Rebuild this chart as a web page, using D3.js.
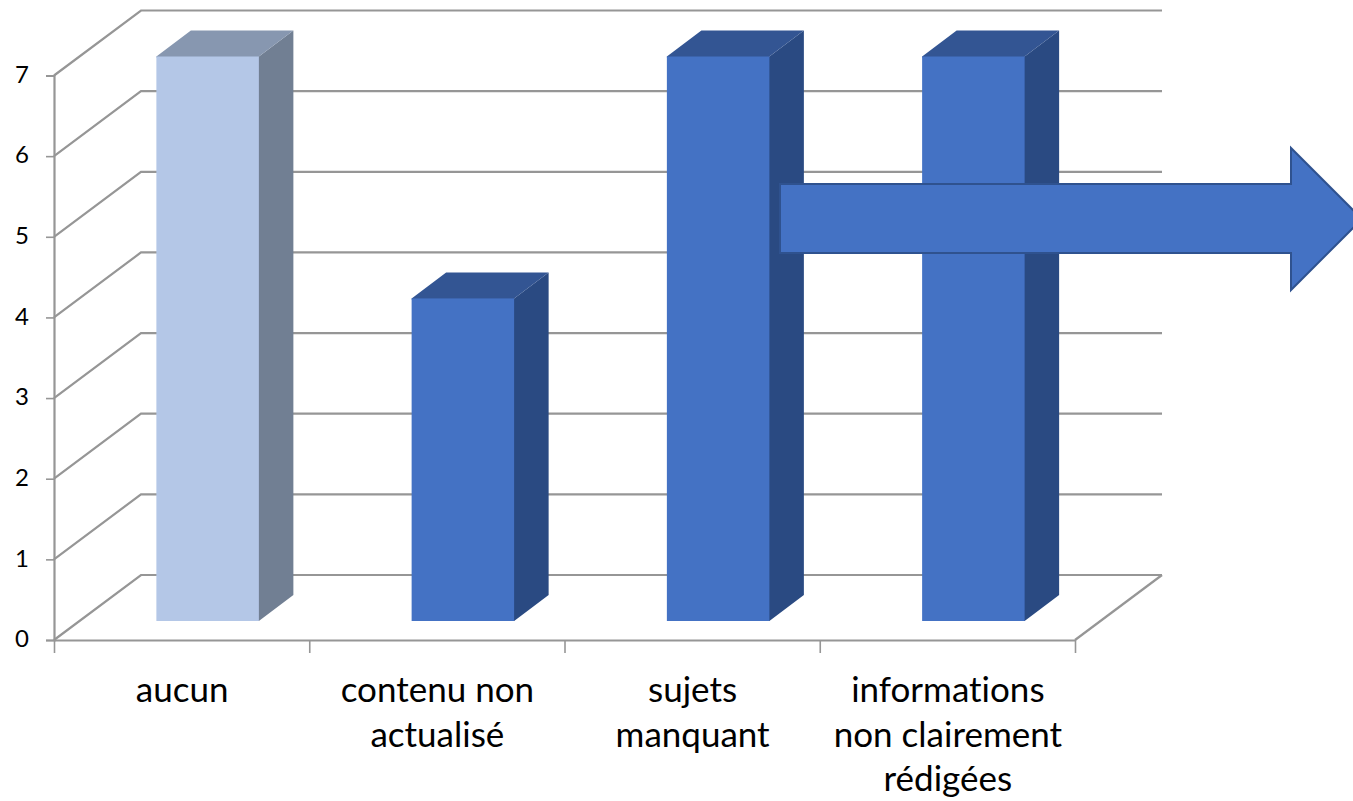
<!DOCTYPE html>
<html>
<head>
<meta charset="utf-8">
<script src="https://cdn.jsdelivr.net/npm/d3@7"></script>
<style>
  html, body { margin: 0; padding: 0; background: #fff; overflow: hidden; }
  svg { display: block; }
  text { font-family: Lato, "Open Sans", sans-serif; fill: #000; font-variant-ligatures: none; }
</style>
</head>
<body>
<div id="chart"></div>
<script>
// data
const categories = [
    ["aucun"],
    ["contenu non", "actualisé"],
    ["sujets", "manquant"],
    ["informations", "non clairement", "rédigées"]
];
const values = [7, 4, 7, 7];
const yTicks = [0, 1, 2, 3, 4, 5, 6, 7];
const highlighted = [true, false, false, false]; // first bar is the pale one

const w = 1353, h = 801;
const gridColor = "#969696";

const x = d3.scaleBand().domain(d3.range(categories.length)).range([54, 1075]).paddingInner(0).paddingOuter(0);
const xEdges = d3.scaleLinear().domain([0, categories.length]).range([54, 1075]);
const y = d3.scaleLinear().domain([0, 7]).range([640, 75.5]);

// depth of the fake 3d box
const wallDx = 87, wallDy = -65;
const barW = 102.5, barDx = 34.5, barDy = -26, barLift = -19, barShift = 26;

const svg = d3.select("#chart").append("svg").attr("width", w).attr("height", h);

// gridlines run up the left wall and then along the back wall
svg.append("g").selectAll("path")
    .data(yTicks)
    .enter()
    .append("path")
    .attr("fill", "none")
    .attr("stroke", gridColor)
    .attr("stroke-width", 2.2)
    .attr("d", d => {
        const p = d3.path();
        p.moveTo(x.range()[0], y(d));
        p.lineTo(x.range()[0] + wallDx, y(d) + wallDy);
        p.lineTo(x.range()[1] + wallDx, y(d) + wallDy);
        return p.toString();
    });

// right edge of the floor
svg.append("line")
    .attr("x1", x.range()[1]).attr("y1", y(0))
    .attr("x2", x.range()[1] + wallDx).attr("y2", y(0) + wallDy)
    .attr("stroke", gridColor).attr("stroke-width", 2.2);

// axes
const yAxis = svg.append("g")
    .attr("transform", "translate(54,0)")
    .call(d3.axisLeft(y).tickValues(yTicks).tickFormat(d3.format("d")).tickSize(8).tickPadding(17));
const xAxis = svg.append("g")
    .attr("transform", "translate(0,640)")
    .call(d3.axisBottom(xEdges).tickValues(d3.range(categories.length + 1)).tickFormat("").tickSize(13).tickSizeOuter(0));

yAxis.selectAll("text").style("font-size", "24px").attr("dy", "0.28em");
[yAxis, xAxis].forEach(a => {
    a.selectAll(".domain").attr("stroke", gridColor).attr("stroke-width", 2.2);
    a.selectAll("line").attr("stroke", gridColor).attr("stroke-width", 1.6);
});

// bars: front, top and side faces (side and top start 1px under the front to hide the seam)
const bars = svg.append("g").selectAll("g")
    .data(values)
    .enter()
    .append("g")
    .attr("transform", (d, i) => "translate(" + (x(i) + (x.bandwidth() - barW) / 2 + barShift) + ",0)");

bars.append("path")
    .attr("fill", (d, i) => highlighted[i] ? "#717f93" : "#2a4a82")
    .attr("d", d => {
        const top = y(d) + barLift, bottom = y(0) + barLift;
        return "M" + (barW - 1) + "," + top + "L" + barW + "," + top + "L" + (barW + barDx) + "," + (top + barDy) +
            "L" + (barW + barDx) + "," + (bottom + barDy) + "L" + barW + "," + bottom + "L" + (barW - 1) + "," + bottom + "Z";
    });

bars.append("path")
    .attr("fill", (d, i) => highlighted[i] ? "#8797b0" : "#335593")
    .attr("d", d => {
        const top = y(d) + barLift;
        return "M0," + top + "L" + barDx + "," + (top + barDy) +
            "L" + (barW + barDx) + "," + (top + barDy) + "L" + barW + "," + top + "V" + (top + 1) + "H0Z";
    });

bars.append("rect")
    .attr("width", barW)
    .attr("y", d => y(d) + barLift)
    .attr("height", d => y(0) - y(d))
    .attr("fill", (d, i) => highlighted[i] ? "#b4c7e7" : "#4472c4");

// category labels, wrapped by hand like the original
const labels = svg.append("g").selectAll("text")
    .data(categories)
    .enter()
    .append("text")
    .attr("text-anchor", "middle")
    .style("font-size", "35px");

labels.selectAll("tspan")
    .data((d, i) => d.map(line => ({ line: line, i: i })))
    .enter()
    .append("tspan")
    .attr("x", d => x(d.i) + x.bandwidth() / 2 + 0.5)
    .attr("y", (d, j) => 702 + j * 44.5)
    .text(d => d.line);

// block arrow drawn over the chart, its tip runs off the page
svg.append("path")
    .attr("d", "M780,184H1291V148L1362,219L1291,290V253H780Z")
    .attr("fill", "#4472c4")
    .attr("stroke", "#2f528f")
    .attr("stroke-width", 2);
</script>
</body>
</html>
